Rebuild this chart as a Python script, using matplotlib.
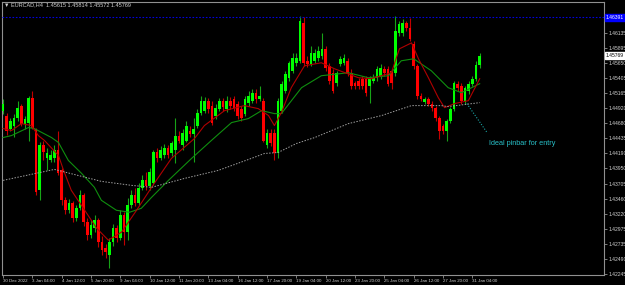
import matplotlib
matplotlib.use("Agg")
import matplotlib.pyplot as plt
from matplotlib import transforms
import numpy as np

header = "EURCAD,H4  1.45615 1.45814 1.45572 1.45769"

# H4 candles, oldest first
opens = [
    1.44881, 1.44801, 1.44592, 1.44640, 1.44769, 1.44962, 1.44672, 1.44688, 1.45090, 1.44592,
    1.43596, 1.44319, 1.44110, 1.44078, 1.44110, 1.44238, 1.43917, 1.43435, 1.43274, 1.43387,
    1.43146, 1.43306, 1.43515, 1.43082, 1.42873, 1.42985, 1.43114, 1.42760, 1.42664, 1.42551,
    1.42760, 1.42985, 1.42824, 1.43194, 1.42921, 1.43355, 1.43515, 1.43387, 1.43628, 1.43756,
    1.43660, 1.43708, 1.44206, 1.44110, 1.44158, 1.44271, 1.44190, 1.44238, 1.44479, 1.44319,
    1.44399, 1.44560, 1.44512, 1.44640, 1.44849, 1.44881, 1.45042, 1.44962, 1.44801, 1.44913,
    1.45042, 1.44913, 1.45042, 1.45074, 1.44994, 1.44913, 1.44833, 1.45010, 1.45042, 1.45171,
    1.45074, 1.45042, 1.44319, 1.44528, 1.44528, 1.44190, 1.44881, 1.45203, 1.45412, 1.45524,
    1.45653, 1.45685, 1.46295, 1.45685, 1.45637, 1.45685, 1.45733, 1.45765, 1.45878, 1.45604,
    1.45492, 1.45331, 1.45637, 1.45653, 1.45685, 1.45492, 1.45331, 1.45363, 1.45396, 1.45396,
    1.45283, 1.45363, 1.45412, 1.45444, 1.45556, 1.45556, 1.45524, 1.45492, 1.46135, 1.46135,
    1.46295, 1.46215, 1.45958, 1.45604, 1.45122, 1.45026, 1.45074, 1.44994, 1.44929, 1.44769,
    1.44640, 1.44560, 1.44721, 1.44913, 1.45315, 1.45283, 1.45042, 1.45203, 1.45315, 1.45396,
    1.45615,
]
highs = [
    1.45074, 1.44849, 1.44769, 1.44833, 1.45042, 1.44994, 1.44801, 1.45122, 1.45203, 1.44608,
    1.44367, 1.44399, 1.44271, 1.44238, 1.44319, 1.44560, 1.43949, 1.43483, 1.43451, 1.43419,
    1.43355, 1.43596, 1.43548, 1.43146, 1.43114, 1.43194, 1.43146, 1.42856, 1.42728, 1.42824,
    1.43050, 1.43033, 1.43274, 1.43242, 1.43467, 1.43596, 1.43628, 1.43708, 1.43837, 1.43885,
    1.43949, 1.44238, 1.44271, 1.44303, 1.44335, 1.44319, 1.44399, 1.44769, 1.44560, 1.44592,
    1.44721, 1.44640, 1.44769, 1.44913, 1.45122, 1.45106, 1.45090, 1.45042, 1.44994, 1.45090,
    1.45090, 1.45122, 1.45106, 1.45122, 1.45042, 1.44962, 1.45122, 1.45203, 1.45235, 1.45235,
    1.45283, 1.45090, 1.44592, 1.44592, 1.44592, 1.45090, 1.45363, 1.45524, 1.45685, 1.45813,
    1.45813, 1.46400, 1.46395, 1.45765, 1.45926, 1.45878, 1.45926, 1.46135, 1.45926, 1.45653,
    1.45556, 1.45524, 1.45765, 1.45797, 1.45733, 1.45556, 1.45363, 1.45412, 1.45444, 1.45444,
    1.45444, 1.45476, 1.45604, 1.45637, 1.45604, 1.45604, 1.45556, 1.46400, 1.46328, 1.46360,
    1.46328, 1.46376, 1.46006, 1.45637, 1.45171, 1.45106, 1.45106, 1.45042, 1.44962, 1.44801,
    1.44672, 1.44753, 1.44946, 1.45363, 1.45363, 1.45331, 1.45283, 1.45363, 1.45444, 1.45685,
    1.45814,
]
lows = [
    1.44833, 1.44496, 1.44560, 1.44463, 1.44721, 1.44640, 1.44592, 1.44399, 1.44592, 1.43515,
    1.43435, 1.44078, 1.43917, 1.44046, 1.44046, 1.43837, 1.43355, 1.43210, 1.43226, 1.43082,
    1.43098, 1.43274, 1.43017, 1.42792, 1.42824, 1.42921, 1.42680, 1.42551, 1.42503, 1.42342,
    1.42696, 1.42760, 1.42792, 1.42712, 1.42792, 1.43306, 1.43339, 1.43355, 1.43596, 1.43596,
    1.43596, 1.43676, 1.44046, 1.44078, 1.44110, 1.44110, 1.44142, 1.44030, 1.44351, 1.44238,
    1.44367, 1.44463, 1.44046, 1.44608, 1.44817, 1.44849, 1.44849, 1.44656, 1.44753, 1.44881,
    1.44881, 1.44865, 1.44913, 1.44881, 1.44753, 1.44721, 1.44801, 1.44962, 1.45010, 1.45010,
    1.45042, 1.44367, 1.44271, 1.44303, 1.44078, 1.44110, 1.44849, 1.45171, 1.45363, 1.45492,
    1.45604, 1.45653, 1.45604, 1.45588, 1.45604, 1.45653, 1.45685, 1.45717, 1.45524, 1.45315,
    1.45171, 1.45283, 1.45604, 1.45620, 1.45444, 1.45235, 1.45235, 1.45235, 1.45235, 1.45122,
    1.45010, 1.45331, 1.45363, 1.45396, 1.45444, 1.45283, 1.45235, 1.45444, 1.46087, 1.46087,
    1.46167, 1.46006, 1.45556, 1.45074, 1.45042, 1.44994, 1.44962, 1.44881, 1.44721, 1.44431,
    1.44512, 1.44399, 1.44688, 1.44881, 1.45203, 1.44994, 1.44994, 1.45154, 1.45283, 1.45363,
    1.45572,
]
closes = [
    1.44994, 1.44560, 1.44721, 1.44769, 1.44929, 1.44672, 1.44753, 1.45090, 1.44608, 1.43564,
    1.44319, 1.44206, 1.44190, 1.44158, 1.44238, 1.43869, 1.43435, 1.43274, 1.43387, 1.43146,
    1.43306, 1.43515, 1.43082, 1.42873, 1.43033, 1.43114, 1.42760, 1.42632, 1.42599, 1.42760,
    1.42985, 1.42824, 1.43194, 1.42921, 1.43355, 1.43515, 1.43387, 1.43628, 1.43756, 1.43660,
    1.43885, 1.44206, 1.44110, 1.44238, 1.44271, 1.44158, 1.44351, 1.44479, 1.44399, 1.44528,
    1.44640, 1.44512, 1.44592, 1.44849, 1.45042, 1.45042, 1.44913, 1.44688, 1.44929, 1.45042,
    1.44946, 1.45042, 1.44962, 1.44929, 1.44801, 1.44769, 1.45074, 1.45122, 1.45171, 1.45074,
    1.45122, 1.44399, 1.44528, 1.44351, 1.44190, 1.45042, 1.45315, 1.45476, 1.45653, 1.45733,
    1.45733, 1.46328, 1.45653, 1.45637, 1.45813, 1.45813, 1.45845, 1.45878, 1.45572, 1.45363,
    1.45203, 1.45492, 1.45717, 1.45733, 1.45476, 1.45283, 1.45283, 1.45283, 1.45283, 1.45171,
    1.45396, 1.45412, 1.45556, 1.45572, 1.45492, 1.45315, 1.45331, 1.46167, 1.46279, 1.46295,
    1.46215, 1.46038, 1.45604, 1.45122, 1.45074, 1.45074, 1.44994, 1.44929, 1.44769, 1.44560,
    1.44560, 1.44721, 1.44913, 1.45331, 1.45251, 1.45042, 1.45251, 1.45315, 1.45396, 1.45615,
    1.45769,
]

# moving averages (bar index, price)
red_ma_bar = [0, 2.3, 5, 7.7, 9.6, 11.3, 15.1, 16.5, 18.6, 21.9, 25.5, 28.7, 32.3, 36.4,
              40.5, 45.9, 52.2, 54.9, 60.4, 65.8, 69.6, 72.4, 74, 75.9, 78.6, 82.2, 86.8,
              90.4, 96.9, 100.4, 105.9, 108.1, 111.4, 113.3, 116, 118.7, 120.4, 123.1,
              126.9, 130]
red_ma = [1.44592, 1.44560, 1.44672, 1.44640, 1.44479, 1.44399, 1.44158, 1.43917, 1.43596,
          1.43306, 1.42985, 1.42792, 1.42921, 1.43274, 1.43644, 1.44110, 1.44431, 1.44640,
          1.44881, 1.44962, 1.44913, 1.44801, 1.44640, 1.44849, 1.45251, 1.45604, 1.45653,
          1.45556, 1.45412, 1.45396, 1.45492, 1.45878, 1.45974, 1.45717, 1.45412, 1.45090,
          1.44929, 1.44994, 1.45042, 1.45396]

green_ma_bar = [0, 2.3, 6.9, 8.5, 13.2, 15.1, 17.8, 21.4, 24.9, 26.8, 30.9, 34.5, 37.7, 40.5,
                45.1, 51.4, 56.8, 62.3, 66.9, 70.5, 74, 75.9, 81.4, 86.8, 94.2, 99.6, 105.1,
                108.6, 112, 116.8, 121.4, 125, 130]
green_ma = [1.44447, 1.44479, 1.44608, 1.44592, 1.44447, 1.44367, 1.44078, 1.43869, 1.43644,
            1.43435, 1.43274, 1.43242, 1.43306, 1.43483, 1.43756, 1.44110, 1.44399, 1.44688,
            1.44753, 1.44881, 1.44833, 1.44833, 1.45251, 1.45444, 1.45492, 1.45412, 1.45444,
            1.45685, 1.45717, 1.45524, 1.45251, 1.45171, 1.45315]

grey_ma_bar = [0, 14, 26.8, 35, 40.5, 49.5, 58.7, 67.7, 71.3, 75, 80, 85, 94.2, 103.2,
               111.4, 119.5, 121.4, 130]
grey_ma = [1.43756, 1.43933, 1.43740, 1.43676, 1.43644, 1.43788, 1.43917, 1.44110, 1.44190,
           1.44206, 1.44351, 1.44447, 1.44672, 1.44801, 1.44962, 1.44962, 1.44946, 1.45010]

time_labels = ["30 Dec 2022", "3 Jan 04:00", "4 Jan 12:00", "5 Jan 20:00", "9 Jan 04:00",
               "10 Jan 12:00", "11 Jan 20:00", "13 Jan 04:00", "16 Jan 12:00", "17 Jan 20:00",
               "19 Jan 04:00", "20 Jan 12:00", "23 Jan 20:00", "25 Jan 04:00", "26 Jan 12:00",
               "27 Jan 20:00", "31 Jan 04:00"]
price_ticks = [1.42245, 1.42490, 1.42735, 1.42975, 1.43220, 1.43460, 1.43705, 1.43950,
               1.44190, 1.44435, 1.44680, 1.44920, 1.45165, 1.45405, 1.45650, 1.45895, 1.46135]
level_line = 1.46391
last_price = 1.45769
note = "Ideal pinbar for entry"
note_from = (126.5, 1.44994)
note_to = (132.0, 1.44528)

txt = '#d0d0d0'
plt.rcParams['font.family'] = ['Liberation Sans', 'DejaVu Sans']

fig = plt.figure(figsize=(6.25, 2.85), dpi=100, facecolor='black')
ax = fig.add_axes([2 / 625, 10 / 285, 602 / 625, 273 / 285], facecolor='black')

o = np.array(opens)
c = np.array(closes)
h = np.array(highs)
l = np.array(lows)
x = np.arange(len(o))
up = c >= o

ax.vlines(x[up], l[up], h[up], color='#17a317', lw=0.8, zorder=2)
ax.vlines(x[~up], l[~up], h[~up], color='#c00000', lw=0.8, zorder=2)
ax.bar(x[up], c[up] - o[up], bottom=o[up], width=0.7, color='#00ff00', lw=0, zorder=3)
ax.bar(x[~up], o[~up] - c[~up], bottom=c[~up], width=0.7, color='#ff0000', lw=0, zorder=3)

ax.plot(green_ma_bar, green_ma, color='#0f8f0f', lw=0.8, zorder=4)
ax.plot(red_ma_bar, red_ma, color='#b00000', lw=0.8, zorder=4)
ax.plot(grey_ma_bar, grey_ma, color='#a0a0a0', lw=0.7, ls=(0, (1.5, 1.5)), zorder=4)
ax.axhline(level_line, color='#0000e0', lw=0.8, ls=(0, (1.5, 1.5)), zorder=4)

ax.plot([note_from[0], note_to[0]], [note_from[1], note_to[1]], color='#1aa5a5', lw=0.8,
        ls=(0, (1, 1.5)), zorder=5)
ax.text(note_to[0] + 0.5, 1.44351, note, color='#28c0c8', fontsize=5.2, ha='left', va='center')

ax.set_xlim(-0.3, 163.9)
ax.set_ylim(1.42230, 1.46633)

ax.yaxis.tick_right()
ax.set_yticks(price_ticks)
ax.set_yticklabels([f"{v:.5f}" for v in price_ticks])
ax.set_xticks(np.arange(0, 8 * len(time_labels), 8))
ax.set_xticklabels(time_labels, ha='left')
ax.tick_params(axis='both', colors='#909090', labelcolor=txt, labelsize=3.6, length=2,
               width=0.6, pad=1)
ax.tick_params(axis='x', labelsize=3.2)
for s in ax.spines.values():
    s.set_color('#909090')
    s.set_linewidth(0.8)

trans = transforms.blended_transform_factory(ax.transAxes, ax.transData)
ax.text(1.003, level_line, f"{level_line:.5f}", transform=trans, fontsize=3.6, color='white',
        ha='left', va='center', clip_on=False,
        bbox=dict(boxstyle='square,pad=0.2', facecolor='#0000ff', edgecolor='#0000ff'))
ax.text(1.003, last_price, f"{last_price:.5f}", transform=trans, fontsize=3.6, color='black',
        ha='left', va='center', clip_on=False,
        bbox=dict(boxstyle='square,pad=0.2', facecolor='white', edgecolor='white'))

fig.text(4 / 625, 1 - 5 / 285, "\u25BC " + header, color=txt, fontsize=4, ha='left',
         va='center', family=['Liberation Sans', 'DejaVu Sans'])

fig.savefig("out.png", dpi=100, facecolor='black')
